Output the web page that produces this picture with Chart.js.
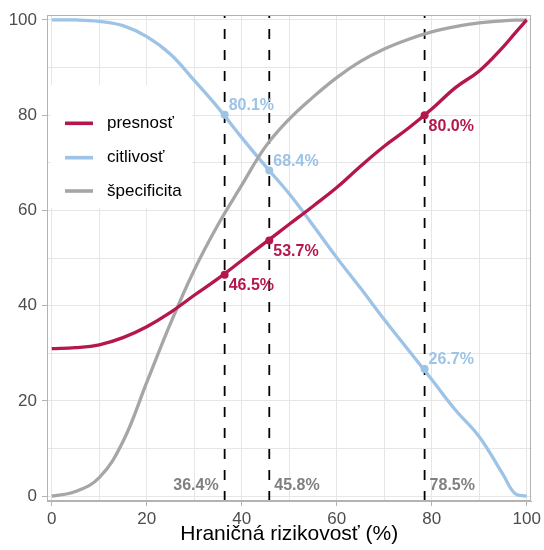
<!DOCTYPE html>
<html>
<head>
<meta charset="utf-8">
<script src="https://cdn.jsdelivr.net/npm/chart.js@4/dist/chart.umd.min.js"></script>
<style>
  html, body { margin: 0; padding: 0; background: #ffffff; }
  #wrap { width: 544px; height: 550px; }
</style>
</head>
<body>
<div id="wrap"><canvas id="c" width="544" height="550"></canvas></div>
<script>
// ---- data ----
const seriesNames = ['presnosť', 'citlivosť', 'špecificita'];
const thresholds = [0, 5, 10, 15, 20, 25, 30, 35, 40, 45, 50, 55, 60, 65, 70, 75, 80, 85, 90, 95, 97.5, 100];
const presnost    = [31.0, 31.2, 31.8, 33.3, 35.6, 38.6, 42.2, 45.7, 49.5, 53.3, 57.1, 60.9, 64.8, 69.3, 73.5, 77.2, 81.3, 85.8, 89.3, 94.3, 97.2, 100];
const citlivost   = [100, 100, 99.7, 98.8, 96.5, 92.8, 87.3, 81.6, 75.3, 69.3, 63.5, 56.9, 50.1, 43.7, 37.1, 30.8, 24.5, 18.1, 12.5, 4.6, 0.6, 0];
const specificita = [0, 1.0, 3.9, 11.5, 23.9, 36.3, 47.5, 57.0, 65.3, 73.4, 79.2, 83.8, 87.9, 91.3, 93.9, 95.9, 97.5, 98.6, 99.4, 99.8, 99.95, 100];
const cutoffs = [36.4, 45.8, 78.5];
const presnostAtCutoff  = [46.5, 53.7, 80.0];
const citlivostAtCutoff = [80.1, 68.4, 26.7];
const axisTicks = [0, 10, 20, 30, 40, 50, 60, 70, 80, 90, 100];
const xTitle = 'Hraničná rizikovosť (%)';

// ---- styles ----
const colors = ['#B5174B', '#9DC3E6', '#A6A6A6'];
const FONT = "'Liberation Sans', Arial, sans-serif";
const cutoffLabelValue = 2.3;

function pts(xs, ys) { return xs.map((x, i) => ({ x: x, y: ys[i] })); }
const seriesValues = [presnost, citlivost, specificita];
const lineOrder = [2, 4, 3];

const datasets = [];
// vertical dashed cut-off lines
cutoffs.forEach(c => {
  datasets.push({
    type: 'line', data: [{ x: c, y: -1 }, { x: c, y: 101 }],
    borderColor: '#000000', borderWidth: 1.8, borderDash: [10, 11],
    pointRadius: 0, fill: false, order: 6, tension: 0
  });
});
// curves
seriesNames.forEach((name, i) => {
  datasets.push({
    type: 'line', label: name, data: pts(thresholds, seriesValues[i]),
    borderColor: colors[i], borderWidth: 3.3, pointRadius: 0,
    tension: 0.4, fill: false, order: lineOrder[i]
  });
});
// points at cut-offs
datasets.push({
  type: 'scatter', data: pts(cutoffs, presnostAtCutoff), showLine: false,
  pointRadius: 4, pointBackgroundColor: colors[0], pointBorderWidth: 0, order: 0, labelSide: 'below', colorIdx: 0
});
datasets.push({
  type: 'scatter', data: pts(cutoffs, citlivostAtCutoff), showLine: false,
  pointRadius: 4, pointBackgroundColor: colors[1], pointBorderWidth: 0, order: 0, labelSide: 'above', colorIdx: 1
});

const panelPlugin = {
  id: 'panel',
  beforeDatasetsDraw(chart) {
    const ctx = chart.ctx;
    ctx.save();
    ctx.fillStyle = '#ffffff';
    ctx.fillRect(51, 85, 141, 123);
    const rows = [123.3, 157.7, 191];
    seriesNames.forEach((name, i) => {
      ctx.strokeStyle = colors[i];
      ctx.lineWidth = 3.6;
      ctx.beginPath();
      ctx.moveTo(65, rows[i]);
      ctx.lineTo(93, rows[i]);
      ctx.stroke();
      ctx.fillStyle = '#000000';
      ctx.font = '17px ' + FONT;
      ctx.textAlign = 'left';
      ctx.textBaseline = 'middle';
      ctx.fillText(name, 107, rows[i]);
    });
    ctx.restore();
  },
  afterDatasetsDraw(chart) {
    const ctx = chart.ctx;
    const xs = chart.scales.x, ys = chart.scales.y;
    ctx.save();
    ctx.font = 'bold 16px ' + FONT;
    ctx.textBaseline = 'middle';
    chart.data.datasets.forEach(ds => {
      if (!ds.labelSide) return;
      ds.data.forEach(p => {
        const px = xs.getPixelForValue(p.x), py = ys.getPixelForValue(p.y);
        ctx.fillStyle = colors[ds.colorIdx];
        ctx.textAlign = 'left';
        const dy = ds.labelSide === 'above' ? -9 : 11;
        ctx.fillText(p.y.toFixed(1) + '%', px + 4, py + dy);
      });
    });
    ctx.fillStyle = '#808080';
    cutoffs.forEach((c, i) => {
      const px = xs.getPixelForValue(c);
      const py = ys.getPixelForValue(cutoffLabelValue);
      if (i === 0) { ctx.textAlign = 'right'; ctx.fillText(c.toFixed(1) + '%', px - 6, py); }
      else { ctx.textAlign = 'left'; ctx.fillText(c.toFixed(1) + '%', px + 5, py); }
    });
    const a = chart.chartArea;
    ctx.strokeStyle = '#b3b3b3';
    ctx.lineWidth = 1;
    ctx.strokeRect(Math.round(a.left) + 0.5, Math.round(a.top) + 0.5,
                   Math.round(a.right - a.left) - 1, Math.round(a.bottom - a.top) - 1);
    ctx.restore();
  }
};

function tickColor(ctx) {
  return (ctx.tick && ctx.tick.value % 20 === 0) ? '#b3b3b3' : 'rgba(0,0,0,0)';
}

new Chart(document.getElementById('c'), {
  data: { datasets: datasets },
  options: {
    responsive: false, animation: false, devicePixelRatio: 1,
    layout: { padding: { top: 12, right: 10, left: 0, bottom: 0 } },
    plugins: { legend: { display: false }, tooltip: { enabled: false } },
    scales: {
      x: {
        type: 'linear', min: -1, max: 101,
        afterBuildTicks: s => { s.ticks = axisTicks.map(v => ({ value: v })); },
        afterFit: s => { s.height = 49; },
        ticks: {
          autoSkip: false, maxRotation: 0, padding: 3,
          callback: v => (v % 20 === 0 ? String(v) : ''),
          font: { size: 17, family: FONT }, color: '#4d4d4d'
        },
        grid: { color: '#e6e6e6', lineWidth: 1, tickLength: 5, tickColor: tickColor, drawTicks: true },
        border: { display: true, color: '#b3b3b3', width: 1 },
        title: { display: true, text: xTitle, font: { size: 21, family: FONT }, color: '#000000', padding: { top: 0, bottom: 3 } }
      },
      y: {
        type: 'linear', min: -1, max: 101,
        afterBuildTicks: s => { s.ticks = axisTicks.map(v => ({ value: v })); },
        afterFit: s => { s.width = 47; },
        ticks: {
          autoSkip: false, padding: 5,
          callback: v => (v % 20 === 0 ? String(v) : ''),
          font: { size: 17, family: FONT }, color: '#4d4d4d'
        },
        grid: { color: '#e6e6e6', lineWidth: 1, tickLength: 5, tickColor: tickColor, drawTicks: true },
        border: { display: true, color: '#b3b3b3', width: 1 }
      }
    }
  },
  plugins: [panelPlugin]
});
</script>
</body>
</html>
